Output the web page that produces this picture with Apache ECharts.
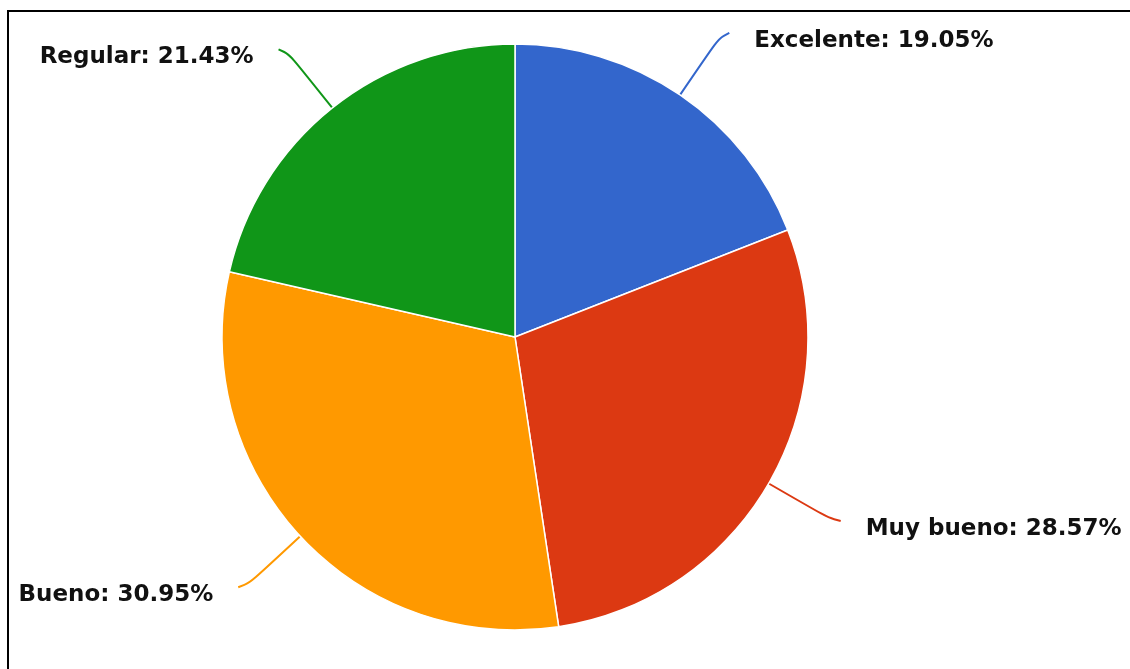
<!DOCTYPE html>
<html>
<head>
<meta charset="utf-8">
<script src="https://cdn.jsdelivr.net/npm/echarts@6/dist/echarts.min.js"></script>
<style>
  html, body { margin: 0; padding: 0; background: #fff; }
  #chart { width: 1130px; height: 669px; }
</style>
</head>
<body>
<div id="chart"></div>
<script>
// Ratings and their counts (shares of 42 responses)
const categories = ['Excelente', 'Muy bueno', 'Bueno', 'Regular'];
const counts = [8, 12, 13, 9];
const colors = ['#3366cc', '#dc3912', '#ff9900', '#109618'];

const chart = echarts.init(document.getElementById('chart'), null, { renderer: 'canvas' });

const data = categories.map((name, i) => ({
  name: name,
  value: counts[i],
  itemStyle: { color: colors[i] },
  labelLine: { lineStyle: { color: colors[i] } }
}));

const labelFont = {
  fontFamily: 'DejaVu Sans',
  fontWeight: 'bold',
  fontSize: 23,
  color: '#111111'
};

chart.setOption({
  animation: false,
  backgroundColor: '#ffffff',
  graphic: [
    {
      type: 'polyline',
      shape: { points: [[8, 669], [8, 11], [1130, 11]] },
      style: { stroke: '#000', lineWidth: 2, fill: null }
    }
  ],
  series: [
    {
      type: 'pie',
      center: [515, 337],
      radius: [0, 293],
      startAngle: 90,
      clockwise: true,
      avoidLabelOverlap: false,
      data: data,
      itemStyle: { borderColor: '#ffffff', borderWidth: 1.5 },
      label: Object.assign({
        show: true,
        formatter: function (p) { return '{t|' + p.name + ': ' + p.percent.toFixed(2) + '%}'; },
        distanceToLabelLine: 25,
        rich: {
          t: Object.assign({ padding: [16, 0, 0, 0] }, labelFont)
        }
      }, labelFont),
      percentPrecision: 2,
      labelLine: {
        show: true,
        length: 75,
        length2: 7,
        smooth: 1,
        lineStyle: { width: 2 }
      }
    }
  ]
});
</script>
</body>
</html>
